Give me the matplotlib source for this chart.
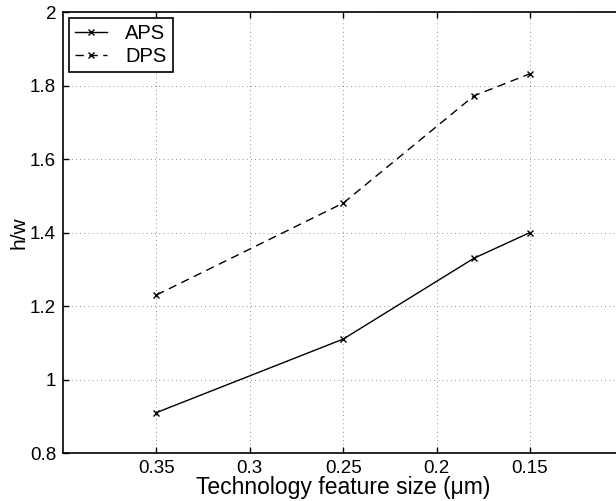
import matplotlib.pyplot as plt

plt.rcParams['font.family'] = ['Liberation Sans', 'DejaVu Sans']

# feature size (um) and h/w ratios
feature_size = [0.35, 0.25, 0.18, 0.15]
aps = [0.91, 1.11, 1.33, 1.40]
dps = [1.23, 1.48, 1.772, 1.832]
x_ticks = [0.35, 0.3, 0.25, 0.2, 0.15]
x_tick_labels = ['0.35', '0.3', '0.25', '0.2', '0.15']
y_ticks = [0.8, 1.0, 1.2, 1.4, 1.6, 1.8, 2.0]
y_tick_labels = ['0.8', '1', '1.2', '1.4', '1.6', '1.8', '2']

fig = plt.figure(figsize=(6.16, 5.01), dpi=100)
ax = fig.add_axes([0.1023, 0.0958, 0.9097, 0.8802])

ax.plot(feature_size, aps, color='black', linestyle='-', linewidth=1.0,
        marker='x', markersize=5, markeredgewidth=1.0, label='APS')
ax.plot(feature_size, dps, color='black', linestyle=(0, (6, 4)), linewidth=1.0,
        marker='x', markersize=5, markeredgewidth=1.0, label='DPS')

ax.set_xlim(0.4, 0.1)
ax.set_ylim(0.8, 2.0)
ax.set_xticks(x_ticks)
ax.set_xticklabels(x_tick_labels)
ax.set_yticks(y_ticks)
ax.set_yticklabels(y_tick_labels)
ax.tick_params(direction='in', top=True, right=True, length=4, labelsize=13.5, width=1, pad=5)
ax.grid(True, linestyle=(0, (1, 4)), color='black', linewidth=0.6, alpha=0.6)
for s in ax.spines.values():
    s.set_linewidth(1.2)

ax.set_xlabel('Technology feature size (μm)', fontsize=16.5, labelpad=-1)
ax.set_ylabel('h/w', fontsize=15, labelpad=1)

leg = ax.legend(loc='upper left', fontsize=14.5, handlelength=1.6, borderpad=0.3,
                labelspacing=0.2, handletextpad=0.9, borderaxespad=0.3,
                fancybox=False, framealpha=1, edgecolor='black')
leg.get_frame().set_linewidth(1.2)

fig.savefig('out.png', dpi=100)
